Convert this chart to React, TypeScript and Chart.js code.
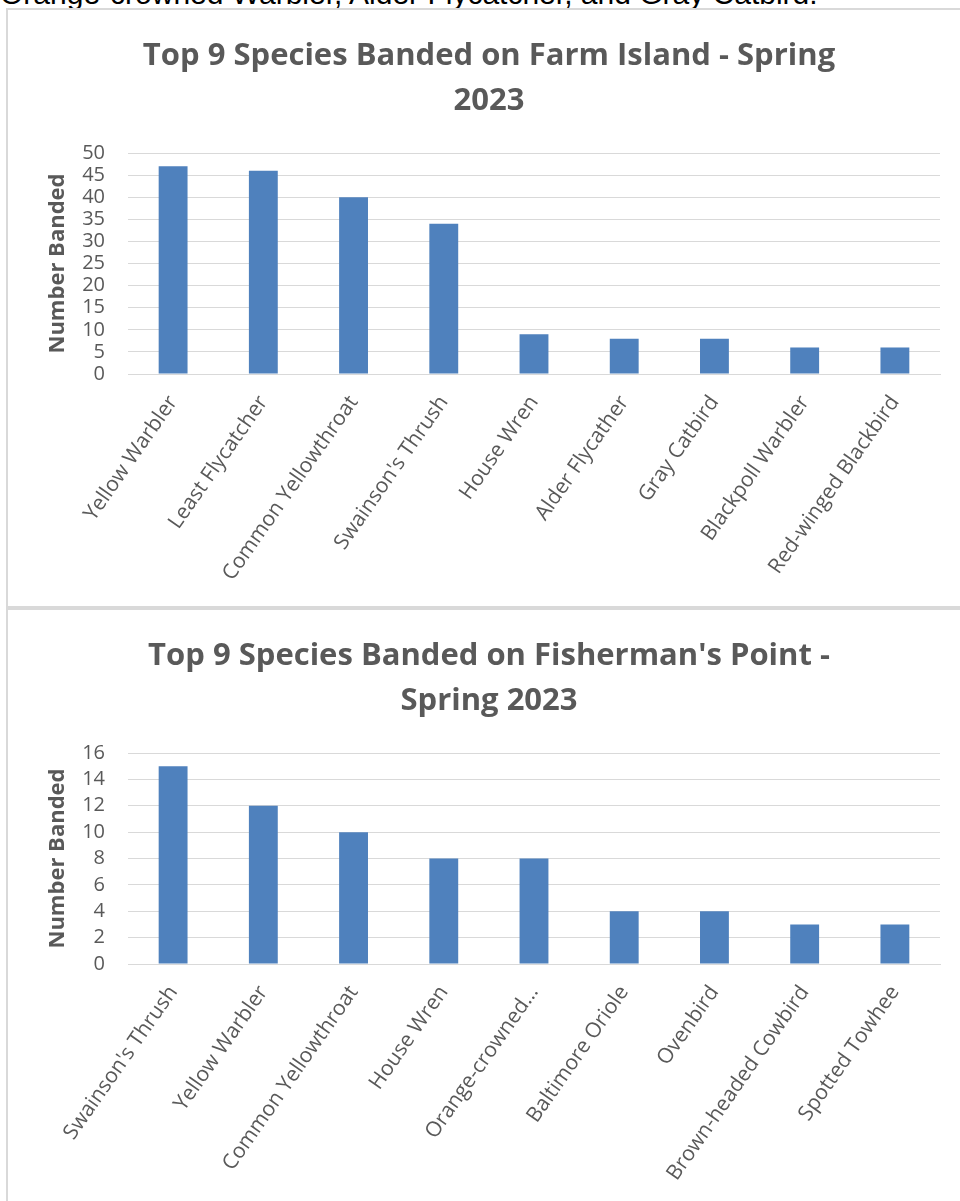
import React, { useEffect, useRef } from "react";
import { Chart, registerables } from "chart.js";

Chart.register(...registerables);

const farmSpecies = [
  "Yellow Warbler",
  "Least Flycatcher",
  "Common Yellowthroat",
  "Swainson's Thrush",
  "House Wren",
  "Alder Flycather",
  "Gray Catbird",
  "Blackpoll Warbler",
  "Red-winged Blackbird",
];
const farmCounts = [47, 46, 40, 34, 9, 8, 8, 6, 6];
const farmTitle = ["Top 9 Species Banded on Farm Island - Spring", "2023"];
const farmMax = 50;
const farmStep = 5;

const pointSpecies = [
  "Swainson's Thrush",
  "Yellow Warbler",
  "Common Yellowthroat",
  "House Wren",
  "Orange-crowned…",
  "Baltimore Oriole",
  "Ovenbird",
  "Brown-headed Cowbird",
  "Spotted Towhee",
];
const pointCounts = [15, 12, 10, 8, 8, 4, 4, 3, 3];
const pointTitle = ["Top 9 Species Banded on Fisherman's Point -", "Spring 2023"];
const pointMax = 16;
const pointStep = 2;

const yAxisTitle = "Number Banded";
const introText = "Orange-crowned Warbler, Alder Flycatcher, and Gray Catbird.";

const GREY = "#595959";
const GRID = "#d9d9d9";
const BAR = "#4f81bd";
const FONT = "'Open Sans', 'Noto Sans', sans-serif";

const CANVAS_W = 962;
const CANVAS_H = 596;

function BarChart(props: {
  title: string[];
  labels: string[];
  values: number[];
  max: number;
  step: number;
  xAxisHeight: number;
}) {
  const ref = useRef<HTMLCanvasElement | null>(null);
  useEffect(() => {
    if (!ref.current) return;
    const chart = new Chart(ref.current, {
      type: "bar",
      data: {
        labels: props.labels,
        datasets: [
          {
            data: props.values,
            backgroundColor: BAR,
            borderWidth: 0,
            barPercentage: 0.32,
            categoryPercentage: 1,
          },
        ],
      },
      options: {
        responsive: false,
        animation: false,
        layout: { padding: { left: 30, right: 30, top: 0, bottom: 0 } },
        plugins: {
          legend: { display: false },
          tooltip: { enabled: false },
          title: {
            display: true,
            text: props.title,
            color: GREY,
            font: { family: FONT, size: 31, weight: "bold", lineHeight: 1.45 },
            padding: { top: 24, bottom: 29.1 },
          },
        },
        scales: {
          x: {
            grid: { display: false, drawTicks: false },
            border: { display: true, color: GRID, width: 1 },
            ticks: {
              autoSkip: false,
              minRotation: 55,
              maxRotation: 55,
              padding: 17,
              color: GREY,
              font: { family: FONT, size: 21 },
            },
            afterFit: (s: any) => {
              s.height = props.xAxisHeight;
            },
          },
          y: {
            min: 0,
            max: props.max,
            grid: { color: GRID, lineWidth: 1, drawTicks: false },
            border: { display: false },
            ticks: {
              autoSkip: false,
              stepSize: props.step,
              padding: 23,
              color: GREY,
              font: { family: FONT, size: 20 },
            },
            title: {
              display: true,
              text: yAxisTitle,
              color: GREY,
              font: { family: FONT, size: 22, weight: "bold", lineHeight: 1.2 },
              padding: { top: 6.8, bottom: 0 },
            },
            afterFit: (s: any) => {
              s.width = 90;
            },
          },
        },
      },
    });
    return () => chart.destroy();
  }, []);
  return <canvas ref={ref} width={CANVAS_W} height={CANVAS_H} style={{ display: "block" }} />;
}

export default function App() {
  return (
    <div
      style={{
        position: "absolute",
        left: 0,
        top: 0,
        width: 960,
        height: 1201,
        overflow: "hidden",
        background: "#fff",
      }}
    >
      <div
        style={{
          position: "absolute",
          left: 0,
          top: -21,
          fontFamily: "'Liberation Sans', Arial, sans-serif",
          fontSize: 30,
          lineHeight: 1,
          color: "#000",
          whiteSpace: "nowrap",
        }}
      >
        {introText}
      </div>
      <div
        style={{
          position: "absolute",
          left: 6,
          top: 8,
          width: CANVAS_W,
          height: CANVAS_H,
          border: `2px solid ${GRID}`,
          background: "#fff",
        }}
      >
        <BarChart
          title={farmTitle}
          labels={farmSpecies}
          values={farmCounts}
          max={farmMax}
          step={farmStep}
          xAxisHeight={232}
        />
      </div>
      <div
        style={{
          position: "absolute",
          left: 6,
          top: 608,
          width: CANVAS_W,
          height: CANVAS_H,
          border: `2px solid ${GRID}`,
          background: "#fff",
        }}
      >
        <BarChart
          title={pointTitle}
          labels={pointSpecies}
          values={pointCounts}
          max={pointMax}
          step={pointStep}
          xAxisHeight={242}
        />
      </div>
    </div>
  );
}
